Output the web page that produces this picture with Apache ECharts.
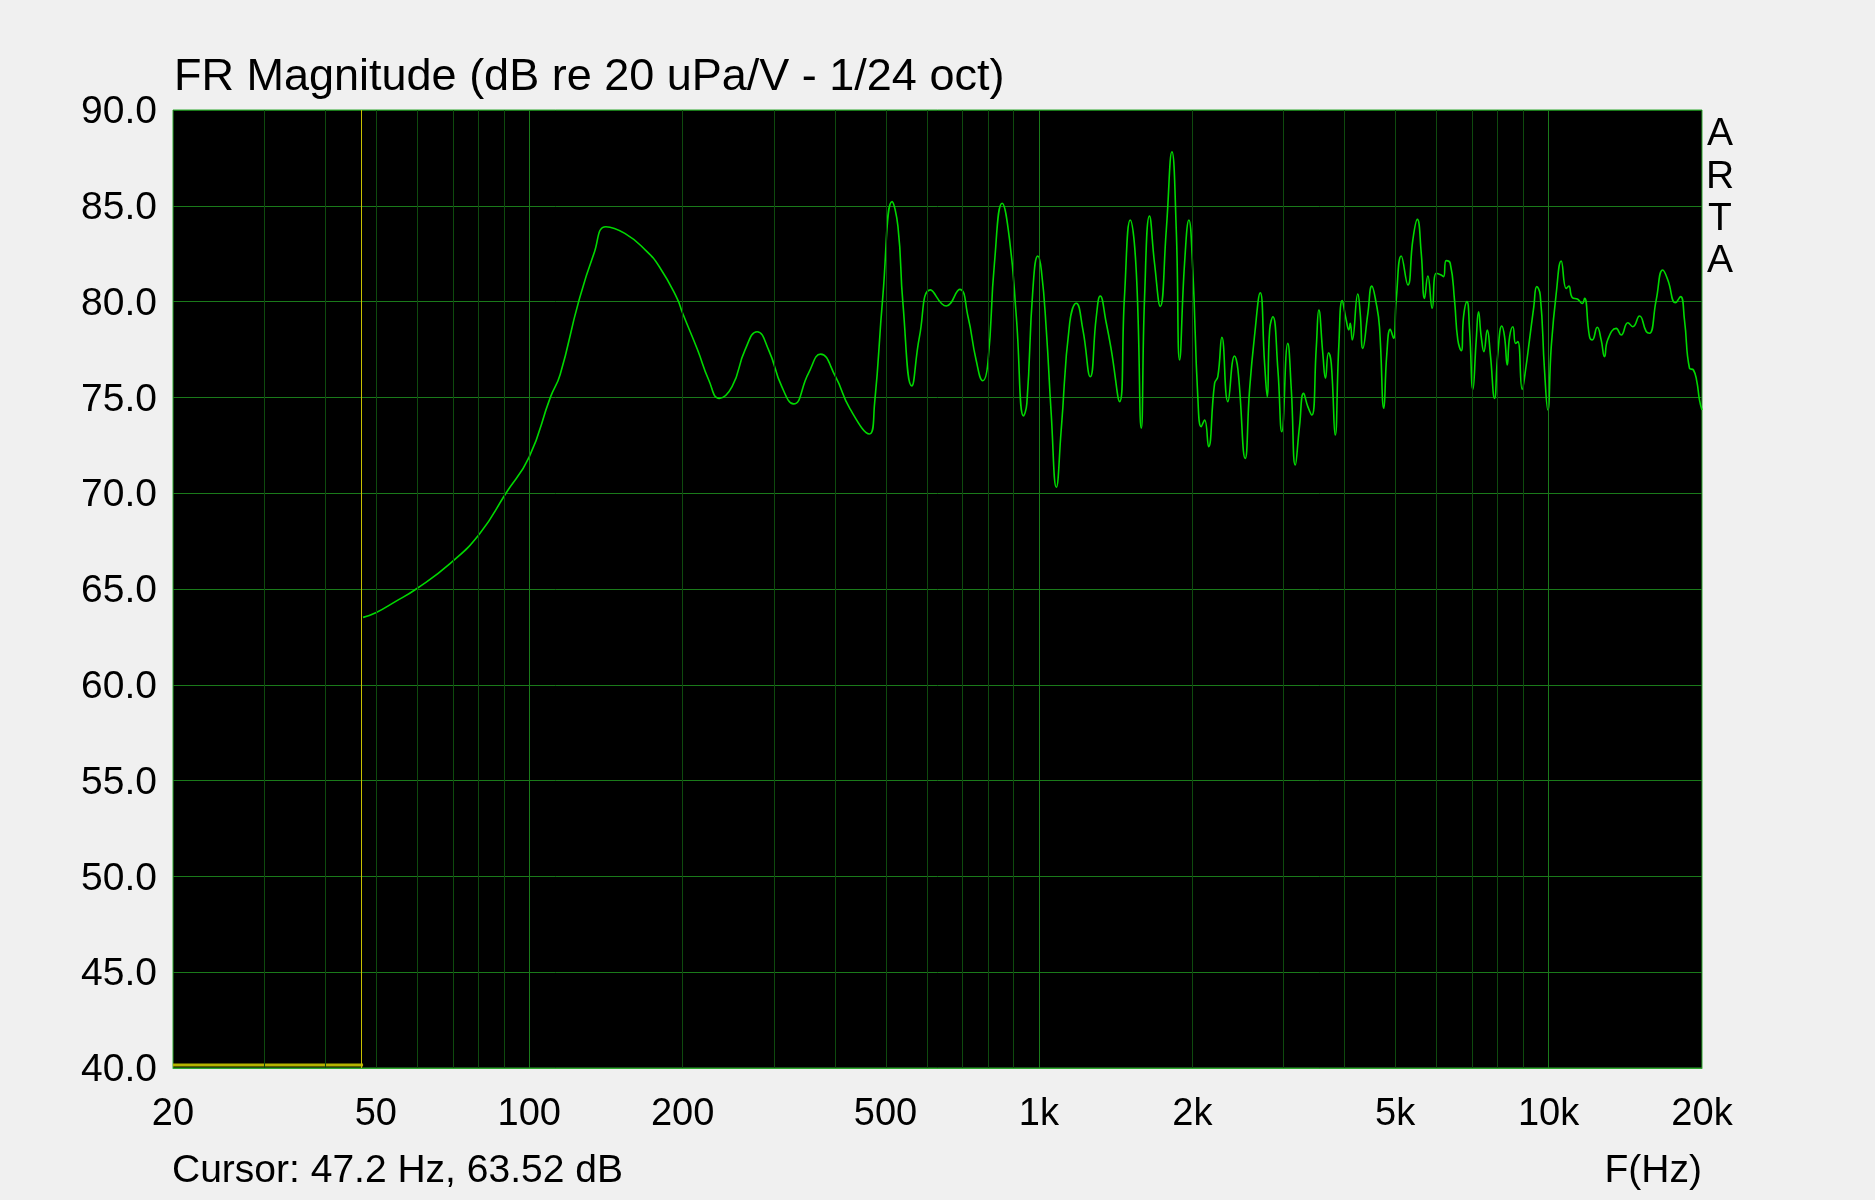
<!DOCTYPE html>
<html><head><meta charset="utf-8">
<script src="https://cdn.jsdelivr.net/npm/echarts@6/dist/echarts.min.js"></script>
<style>html,body{margin:0;padding:0;background:#f0f0f0}#c{width:1875px;height:1200px}</style>
</head><body><div id="c"></div>
<script>
// ---- data ----
const freqHz = [47.2,50,54.6,60,70,80,90,100,110,115,125,134,141.4,154,169,180,195,200,214,225,236,250,265,280,295,313,330,353,373,399,426,
465,476,494,515,529,541,563,583,613,658,699,726,753,776,794,818,847,876,903,933,947,973,995,1011,1034,1057,1082,1106,1149,1184,1220,1261,1296,1319,1356,1387,1440,1472,1511,1552,1588,1612,1648,1686,1730,1778,1824,1860,1888,1931,1969,2004,2050,2082,2114,2152,2212,2244,2286,2348,2420,2458,2540,2590,2648,2718,2772,2806,2836,2878,2944,2996,3078,3128,3184,3246,
3306,3370,3432,3502,3542,3606,3650,3700,3746,3814,3876,3936,4008,4056,4082,4120,4224,4270,4320,4420,4500,4590,4658,4750,4816,4890,4964,5024,5140,5296,5416,5526,5626,5710,5796,5912,6020,6156,6222,6298,6412,6538,6636,6740,6810,6916,6998,7104,7212,7288,7376,7466,7580,7684,7834,7952,8096,8196,8296,8386,8510,8616,8704,8878,9012,9174,9354,9482,9630,9818,9966,10122,10352,10588,10830,10958,11126,11410,11642,11764,12032,12180,12458,12682,12874,13070,13574,13882,14308,14628,15080,15544,15778,16260,16752,17140,17744,18150,18478,18904,19244,19540,19776,20000];
const magDb = [63.52,63.76,64.34,65.0,66.34,67.9,70.0,71.9,75.0,76.2,80.0,82.52,83.91,83.56,82.69,81.82,80.17,79.39,77.47,75.91,74.95,75.56,77.47,78.43,77.47,75.56,74.66,76.26,77.26,76.08,74.4,
73.09,74.69,80.26,85.22,83.91,79.91,75.6,78.17,80.61,79.77,80.64,79.21,76.95,75.87,76.78,82.0,85.13,83.21,79.21,74.03,74.69,80.61,82.38,81.65,78.52,74.17,70.31,73.3,78.87,79.91,78.52,76.08,79.21,80.29,78.87,77.47,74.78,80.26,84.26,81.65,73.39,80.26,84.47,82.0,79.75,83.74,87.82,83.74,76.95,82.0,84.26,81.65,75.04,73.47,73.82,72.43,75.74,76.08,78.14,74.78,77.16,76.43,71.82,75.39,78.17,80.46,76.78,75.04,78.52,79.21,76.43,73.21,77.82,75.39,71.47,73.5,
75.21,74.52,74.08,77.65,79.56,77.3,76.0,77.33,76.78,73.04,77.65,80.05,79.04,78.52,78.87,78.0,80.4,79.39,77.56,79.39,80.81,79.91,78.69,74.43,77.3,78.55,78.09,80.08,82.38,80.87,83.22,84.29,82.52,80.17,81.34,79.65,81.48,81.39,81.3,82.14,82.0,80.08,78.0,77.44,79.21,80.0,78.52,75.42,78.0,79.47,78.17,77.39,78.52,77.3,74.95,77.3,78.73,78.17,76.69,78.17,78.69,77.82,77.91,75.42,76.43,78.0,79.73,80.78,80.34,76.43,74.34,77.65,80.43,82.12,80.69,80.81,80.22,80.12,79.9,80.17,78.17,78.0,78.66,78.0,77.13,78.02,78.6,78.26,78.9,78.69,79.25,78.44,78.35,80.08,81.65,81.13,79.94,80.26,79.04,76.52,76.43,75.82,74.86,74.34];

const xTickFreqs = [20,50,100,200,500,1000,2000,5000,10000,20000];
const xTickLabels = ['20','50','100','200','500','1k','2k','5k','10k','20k'];
const minorGridFreqs = [30,40,50,60,70,80,90,200,300,400,500,600,700,800,900,2000,3000,4000,5000,6000,7000,8000,9000];
const majorGridFreqs = [100,1000,10000];
const cursorFreq = 47.2;
const cursorDb = 63.52;
const floorStartFreq = 20;
const floorDb = 40.16;
const titleText = 'FR Magnitude (dB re 20 uPa/V - 1/24 oct)';
const cursorText = 'Cursor: ' + cursorFreq + ' Hz, ' + cursorDb.toFixed(2) + ' dB';
const xAxisName = 'F(Hz)';
const brandLetters = ['A','R','T','A'];

// ---- chart ----
const FONT = '"Liberation Sans", Arial, sans-serif';
const lg = Math.log10;
const chart = echarts.init(document.getElementById('c'), null, {renderer:'canvas'});

const curve = freqHz.map((f,i)=>[lg(f), magDb[i]]);
const gridLines = minorGridFreqs.map(f=>({xAxis: lg(f), lineStyle:{color:'#0e4a0e', width:1, type:'solid'}}))
  .concat(majorGridFreqs.map(f=>({xAxis: lg(f), lineStyle:{color:'#1a7a1a', width:1, type:'solid'}})));

const graphics = [
  {type:'text', x:174, y:77.5, style:{text:titleText, font:'45px '+FONT, fill:'#000', textAlign:'left', textVerticalAlign:'middle', verticalAlign:'middle'}},
  {type:'text', x:172, y:1171.5, style:{text:cursorText, font:'39px '+FONT, fill:'#000', textAlign:'left', textVerticalAlign:'middle', verticalAlign:'middle'}},
  {type:'text', x:1702, y:1171.5, style:{text:xAxisName, font:'39px '+FONT, fill:'#000', textAlign:'right', textVerticalAlign:'middle', verticalAlign:'middle'}}
];
brandLetters.forEach((ch,i)=>{
  graphics.push({type:'text', x:1720, y:134.5 + i*42.3, style:{text:ch, font:'39px '+FONT, fill:'#000', textAlign:'center', textVerticalAlign:'middle', verticalAlign:'middle'}});
});

chart.setOption({
  animation:false,
  backgroundColor:'#f0f0f0',
  grid:{left:173, right:173, top:110, bottom:132, show:true, backgroundColor:'#000', borderColor:'#2fa82f', borderWidth:1, containLabel:false},
  xAxis:{
    type:'value', min:lg(20), max:lg(20000),
    splitLine:{show:false}, axisTick:{show:false},
    axisLine:{show:true, lineStyle:{color:'#2fa82f', width:1}},
    axisLabel:{
      customValues: xTickFreqs.map(lg),
      formatter:(v)=>{ const i = xTickFreqs.findIndex(f=>Math.abs(lg(f)-v)<1e-6); return i>=0 ? xTickLabels[i] : ''; },
      fontSize:38, fontFamily:FONT, color:'#000', margin:47, verticalAlign:'middle', showMinLabel:true, showMaxLabel:true
    }
  },
  yAxis:{
    type:'value', min:40, max:90, interval:5,
    axisLine:{show:false}, axisTick:{show:false},
    splitLine:{show:true, lineStyle:{color:'#1a7a1a', width:1}},
    axisLabel:{formatter:(v)=>v.toFixed(1), fontSize:39, fontFamily:FONT, color:'#000', margin:16, verticalAlign:'top', lineHeight:5}
  },
  graphic: graphics,
  series:[
    {type:'line', name:'grid', data:[], z:1, silent:true,
     markLine:{silent:true, symbol:['none','none'], label:{show:false}, animation:false, data:gridLines}},
    {type:'line', name:'cursor', data:[[lg(floorStartFreq), floorDb],[lg(cursorFreq), floorDb]], z:2, silent:true,
     showSymbol:false, lineStyle:{color:'#b4b400', width:3},
     markLine:{silent:true, symbol:['none','none'], label:{show:false}, animation:false,
       data:[{xAxis:lg(cursorFreq), lineStyle:{color:'#c8c000', width:1, type:'solid'}}]}},
    {type:'line', name:'FR', data:curve, z:3, showSymbol:false, smooth:0.5,
     lineStyle:{color:'#00d800', width:1.6}}
  ]
});
</script></body></html>
